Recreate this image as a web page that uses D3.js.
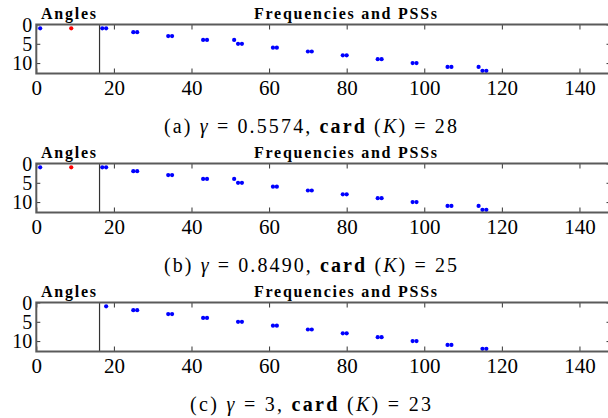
<!DOCTYPE html>
<meta charset="utf-8">
<style>
body {
    margin: 0;
    background: #fff;
}

.box {
    fill: none;
    stroke: #5a5a5a;
    stroke-width: 2px;
}

.separator {
    stroke: #333;
    stroke-width: 1.2px;
}

.tick line {
    stroke: #333;
    stroke-width: 1px;
}
</style>
<body>
    <script src="https://cdn.jsdelivr.net/npm/d3@7"></script>
    <script>
        // data
        const panelLetters = ["a", "b", "c"];
        const gammaValues = ["0.5574", "0.8490", "3"];
        const cardValues = [28, 25, 23];

        const blueX = [
            [1, 17, 18, 25, 26, 34, 35, 43, 44, 51, 52, 53, 61, 62, 70, 71, 79, 80, 88, 89, 97, 98, 106, 107, 114, 115, 116],
            [1, 17, 18, 25, 26, 34, 35, 43, 44, 51, 52, 53, 61, 62, 70, 71, 79, 80, 88, 89, 97, 98, 106, 107, 114, 115, 116],
            [18, 25, 26, 34, 35, 43, 44, 52, 53, 61, 62, 70, 71, 79, 80, 88, 89, 97, 98, 106, 107, 115, 116]
        ];
        const blueY = [
            [1, 1, 1, 2, 2, 3, 3, 4, 4, 4, 5, 5, 6, 6, 7, 7, 8, 8, 9, 9, 10, 10, 11, 11, 11, 12, 12],
            [1, 1, 1, 2, 2, 3, 3, 4, 4, 4, 5, 5, 6, 6, 7, 7, 8, 8, 9, 9, 10, 10, 11, 11, 11, 12, 12],
            [1, 2, 2, 3, 3, 4, 4, 5, 5, 6, 6, 7, 7, 8, 8, 9, 9, 10, 10, 11, 11, 12, 12]
        ];
        const redX = [[9], [9], []];
        const redY = [[1], [1], []];

        const separatorX = 16.3;
        const xDomain = [0, 148];
        const yDomain = [0, 12.7];
        const xTicks = [0, 20, 40, 60, 80, 100, 120, 140];
        const yTicks = [0, 5, 10];

        const width = 608;
        const height = 418;
        const serif = "font-family: 'Liberation Serif', 'Times New Roman', serif";

        const panelTop = 24.5;
        const panelStep = 139;
        const plotHeight = 49;
        const plotLeft = 36.3;
        const plotRight = 610.5;

        const svg = d3.select("body").append("svg")
            .attr("width", width)
            .attr("height", height);

        const x = d3.scaleLinear().domain(xDomain).range([plotLeft, plotRight]);

        panelLetters.forEach(function(letter, i) {
            const top = panelTop + i * panelStep;
            const y = d3.scaleLinear().domain(yDomain).range([top, top + plotHeight]);

            const g = svg.append("g");

            // titles
            g.append("text")
                .attr("style", serif)
                .attr("x", 41)
                .attr("y", top - 6)
                .attr("font-size", 16)
                .attr("font-weight", "bold")
                .attr("textLength", 55)
                .attr("lengthAdjust", "spacing")
                .text("Angles");

            g.append("text")
                .attr("style", serif)
                .attr("x", 254)
                .attr("y", top - 6)
                .attr("font-size", 16)
                .attr("font-weight", "bold")
                .attr("textLength", 183)
                .attr("lengthAdjust", "spacing")
                .text("Frequencies and PSSs");

            // points
            const blue = blueX[i].map(function(v, j) { return { x: v, y: blueY[i][j] }; });
            const red = redX[i].map(function(v, j) { return { x: v, y: redY[i][j] }; });

            g.selectAll(".blue").data(blue).enter()
                .append("circle")
                .attr("class", "blue")
                .attr("cx", function(d) { return x(d.x); })
                .attr("cy", function(d) { return y(d.y); })
                .attr("r", 2.1)
                .attr("fill", "#0000ff");

            g.selectAll(".red").data(red).enter()
                .append("circle")
                .attr("class", "red")
                .attr("cx", function(d) { return x(d.x); })
                .attr("cy", function(d) { return y(d.y); })
                .attr("r", 2.1)
                .attr("fill", "#ff0000");

            g.append("line")
                .attr("class", "separator")
                .attr("x1", x(separatorX))
                .attr("x2", x(separatorX))
                .attr("y1", y(yDomain[0]))
                .attr("y2", y(yDomain[1]));

            // axes
            const bottom = g.append("g")
                .attr("transform", "translate(0," + (top + plotHeight) + ")")
                .call(d3.axisBottom(x).tickValues(xTicks).tickSizeInner(-5).tickSizeOuter(0).tickPadding(7));
            bottom.select(".domain").remove();
            bottom.attr("font-family", null);
            bottom.selectAll("text")
                .attr("style", serif)
                .attr("font-size", 21);

            const topAxis = g.append("g")
                .attr("transform", "translate(0," + top + ")")
                .call(d3.axisTop(x).tickValues(xTicks).tickSizeInner(-5).tickSizeOuter(0).tickFormat(""));
            topAxis.select(".domain").remove();

            const left = g.append("g")
                .attr("transform", "translate(" + plotLeft + ",0)")
                .call(d3.axisLeft(y).tickValues(yTicks).tickSizeInner(-4).tickSizeOuter(0).tickPadding(4));
            left.select(".domain").remove();
            left.attr("font-family", null);
            left.selectAll("text")
                .attr("style", serif)
                .attr("font-size", 20)
                .attr("dy", "0.34em");

            const right = g.append("g")
                .attr("transform", "translate(" + plotRight + ",0)")
                .call(d3.axisRight(y).tickValues(yTicks).tickSizeInner(-4).tickSizeOuter(0).tickFormat(""));
            right.select(".domain").remove();

            g.append("rect")
                .attr("class", "box")
                .attr("x", plotLeft)
                .attr("y", top)
                .attr("width", plotRight - plotLeft)
                .attr("height", plotHeight);

            // caption
            const caption = g.append("text")
                .attr("style", serif)
                .attr("x", 310.5)
                .attr("y", top + 108)
                .attr("text-anchor", "middle")
                .attr("font-size", 20)
                .attr("textLength", letter === "c" ? 241 : 293)
                .attr("lengthAdjust", "spacing");
            caption.append("tspan").text("(" + letter + ") ");
            caption.append("tspan").attr("font-style", "italic").text("γ");
            caption.append("tspan").text(" = " + gammaValues[i] + ", ");
            caption.append("tspan").attr("font-weight", "bold").text("card");
            caption.append("tspan").text(" (");
            caption.append("tspan").attr("font-style", "italic").text("K");
            caption.append("tspan").text(") = " + cardValues[i]);
        });
    </script>
</body>
